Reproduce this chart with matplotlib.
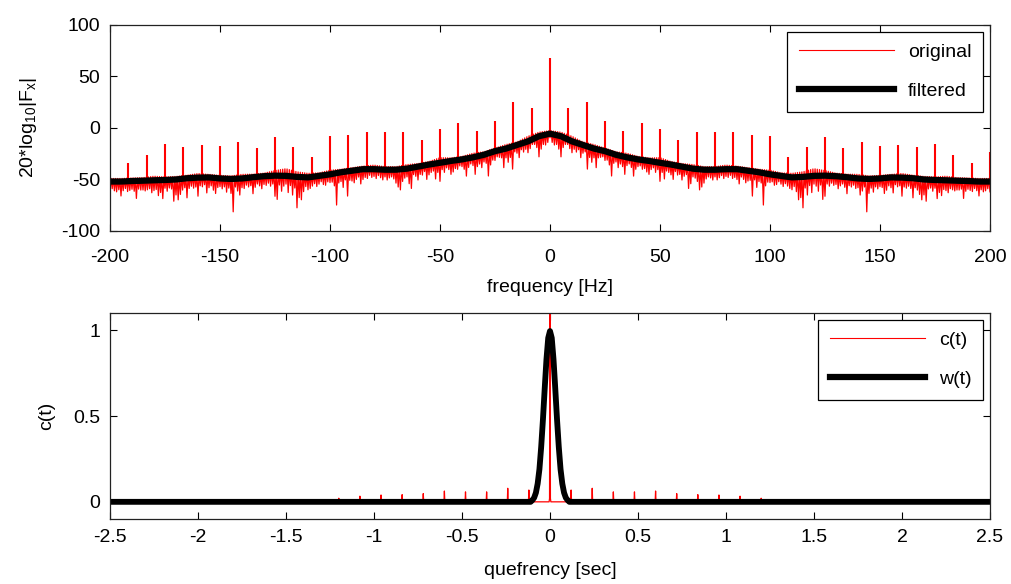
import numpy as np
import matplotlib
matplotlib.use('Agg')
import matplotlib.pyplot as plt
from matplotlib.lines import Line2D
from matplotlib.ticker import FuncFormatter

plt.rcParams['font.family'] = ['Liberation Sans', 'DejaVu Sans']
plt.rcParams['mathtext.fontset'] = 'custom'
plt.rcParams['mathtext.rm'] = 'Liberation Sans'
plt.rcParams['mathtext.it'] = 'Liberation Sans:italic'
plt.rcParams['axes.unicode_minus'] = False

# ---------------- data (spectrum is symmetric; positive half read) ----------------
knot_freqs = list(range(0, 201, 5))
filtered_pos = [-5.5, -8, -13, -16.5, -20, -22.5, -26, -28.5, -30.5, -32, -33.8,
                -35.5, -37.5, -39.5, -40.5, -40.5, -40, -40, -41.5, -43, -45,
                -46.5, -48, -47.5, -46.5, -46.3, -46.8, -47.8, -49, -49.5, -49,
                -48, -48.2, -48.8, -50, -50.5, -50.8, -51.2, -51.5, -52, -52]
band_up_pos = [3, 4, 5, 3, 4, 3, 3, 4, 3, 3, 5, 3, 3, 4, 3, 3, 4, 3, 3, 3, 4,
               3, 4, 5, 7, 5, 3, 3, 4, 3, 3, 3, 4, 3, 3, 3, 4, 3, 3, 3, 3]
# deviation of the noisy trace below the filtered curve, 1 Hz steps, f = 0..200
dip_pos = [-4, -8, -10, -9, -13, -20, -10, -6, -5, -8,
           -11, -7, -9, -6, -13, -8, -6, -22, -10, -14,
           -9, -18, -8, -7, -6, -9, -8, -12, -22, -9,
           -7, -12, -8, -10, -17, -8, -6, -9, -17, -10,
           -7, -6, -9, -8, -11, -13, -8, -6, -10, -7,
           -18, -9, -15, -7, -8, -10, -14, -6, -9, -8,
           -13, -9, -7, -20, -15, -8, -9, -12, -20, -17,
           -13, -9, -7, -8, -10, -7, -10, -8, -6, -9,
           -7, -8, -6, -9, -8, -10, -14, -7, -9, -12,
           -10, -9, -24, -8, -15, -9, -10, -31, -12, -8,
           -8, -7, -10, -9, -6, -8, -10, -7, -9, -11,
           -12, -9, -14, -22, -20, -30, -11, -18, -9, -16,
           -8, -10, -15, -9, -23, -20, -8, -10, -7, -9,
           -8, -12, -9, -7, -10, -16, -8, -9, -7, -10,
           -9, -16, -12, -8, -32, -14, -9, -13, -8, -10,
           -8, -9, -15, -12, -8, -10, -15, -7, -9, -8,
           -18, -9, -10, -8, -10, -19, -9, -11, -15, -20,
           -15, -21, -9, -8, -11, -8, -18, -12, -15, -9,
           -10, -12, -8, -9, -10, -9, -9, -8, -17, -10,
           -8, -9, -10, -7, -9, -14, -8, -10, -9, -7,
           -10]
harmonic_spacing = 25.0 / 3.0   # Hz
harm_peak_pos = [67.7, 19, 25.5, 6.8, -3, 4.5, -1, -11.5, -4.3, -4.3, -4.3, -6.5,
                 -8.2, -28, -18, -9, -19, -14, -17.5, -17, -18, -15.5, -26, -34]
harm_peak_edge = -23   # line at +200 Hz

# cepstrum
quef_step = 0.0025
cep_center = 1.6
cep_near = 0.02
cep_spacing = 0.12
cep_spike_pos = [0.069, 0.079, 0.058, 0.058, 0.063, 0.048, 0.042, 0.040, 0.033, 0.021]
# lifter window w(t)
w_t_pos = [0, 0.01, 0.02, 0.03, 0.04, 0.05, 0.06, 0.07, 0.08, 0.09, 0.10, 0.11, 2.5]
w_pos = [0.995, 0.955, 0.83, 0.66, 0.48, 0.32, 0.19, 0.106, 0.053, 0.024, 0.01, 0.0, 0.0]

# ---------------- build arrays ----------------
kf = np.array(knot_freqs, float)
full_f = np.concatenate([-kf[::-1], kf[1:]])
fp = np.array(filtered_pos)
full_filt = np.concatenate([fp[::-1], fp[1:]])
up = np.array(band_up_pos, float)
full_up = np.concatenate([up[::-1], up[1:]])
dp = np.array(dip_pos, float)
full_dip = np.concatenate([dp[::-1], dp[1:]])

ints = np.arange(-200, 201, 1.0)
halves = ints[:-1] + 0.5
lo_vals = np.interp(ints, full_f, full_filt) + full_dip
hi_vals = np.interp(halves, full_f, full_filt + full_up)
red_x = np.empty(len(ints) + len(halves))
red_y = np.empty_like(red_x)
red_x[0::2] = ints
red_x[1::2] = halves
red_y[0::2] = lo_vals
red_y[1::2] = hi_vals

hp = np.array(harm_peak_pos)
harm_k = np.arange(-23, 25)
harm_f = harm_k * harmonic_spacing
harm_db = np.concatenate([hp[:0:-1], hp, [harm_peak_edge]])
harm_base = np.interp(harm_f, full_f, full_filt)

t = np.round(np.arange(-2.5, 2.5 + quef_step / 2, quef_step), 6)
c = np.zeros_like(t)
mid = len(t) // 2
c[mid] = cep_center
c[mid - 1] = cep_near
c[mid + 1] = cep_near
step_n = int(round(cep_spacing / quef_step))
for k, h in enumerate(cep_spike_pos, start=1):
    c[mid + k * step_n] = h
    c[mid - k * step_n] = h

wt = np.array(w_t_pos)
wv = np.array(w_pos)
w_t = np.concatenate([-wt[::-1], wt[1:]])
w_v = np.concatenate([wv[::-1], wv[1:]])

# ---------------- plot ----------------
fig = plt.figure(figsize=(10.11, 5.84), dpi=100)
ax1 = fig.add_axes([0.1088, 0.6045, 0.8704, 0.3527])
ax2 = fig.add_axes([0.1088, 0.1113, 0.8704, 0.3527])

FS = 14
red = '#ff0000'

ax1.plot(red_x, red_y, color=red, lw=0.9)
ax1.vlines(harm_f, harm_base, harm_db, colors=red, lw=1.5)
ax1.plot(full_f, full_filt, color='k', lw=4.5, solid_capstyle='butt')
ax1.set_xlim(-200, 200)
ax1.set_ylim(-100, 100)
ax1.set_xticks(np.arange(-200, 201, 50))
ax1.set_yticks(np.arange(-100, 101, 50))

leg_kw = dict(loc='upper right', fontsize=FS, fancybox=False, framealpha=1,
              edgecolor='k', handlelength=4.9, borderaxespad=0.35,
              labelspacing=1.1, handletextpad=0.7, borderpad=0.6)
h1 = [Line2D([], [], color=red, lw=0.8), Line2D([], [], color='k', lw=4.5)]
leg1 = ax1.legend(h1, ['original', 'filtered'], **leg_kw)
leg1.get_frame().set_linewidth(0.9)

ax2.plot(t, c, color=red, lw=0.9)
ax2.plot(w_t, w_v, color='k', lw=4.2)
ax2.set_xlim(-2.5, 2.5)
ax2.set_ylim(-0.1, 1.1)
ax2.set_xticks(np.arange(-2.5, 2.51, 0.5))
ax2.set_yticks([0, 0.5, 1])
fmt = FuncFormatter(lambda v, p: ('%g' % round(v, 3)))
ax2.xaxis.set_major_formatter(fmt)
ax2.yaxis.set_major_formatter(fmt)
h2 = [Line2D([], [], color=red, lw=0.8), Line2D([], [], color='k', lw=4.5)]
leg2 = ax2.legend(h2, ['c(t)', 'w(t)'], **leg_kw)
leg2.get_frame().set_linewidth(0.9)

for ax in (ax1, ax2):
    ax.tick_params(direction='in', length=5, width=0.8, top=True, right=True,
                   labelsize=FS, pad=7)
    for s in ax.spines.values():
        s.set_linewidth(0.9)
        s.set_color('#222222')
ax1.tick_params(axis='x', pad=13)

ax1.set_xlabel('frequency [Hz]', fontsize=FS, labelpad=9)
ax1.set_ylabel(r'20*log$_{\mathregular{10}}$|F$_{\mathregular{x}}$|', fontsize=FS, labelpad=16)
ax2.set_xlabel('quefrency [sec]', fontsize=FS, labelpad=12)
ax2.set_ylabel('c(t)', fontsize=FS, labelpad=13)

fig.savefig('out.png', dpi=100)
